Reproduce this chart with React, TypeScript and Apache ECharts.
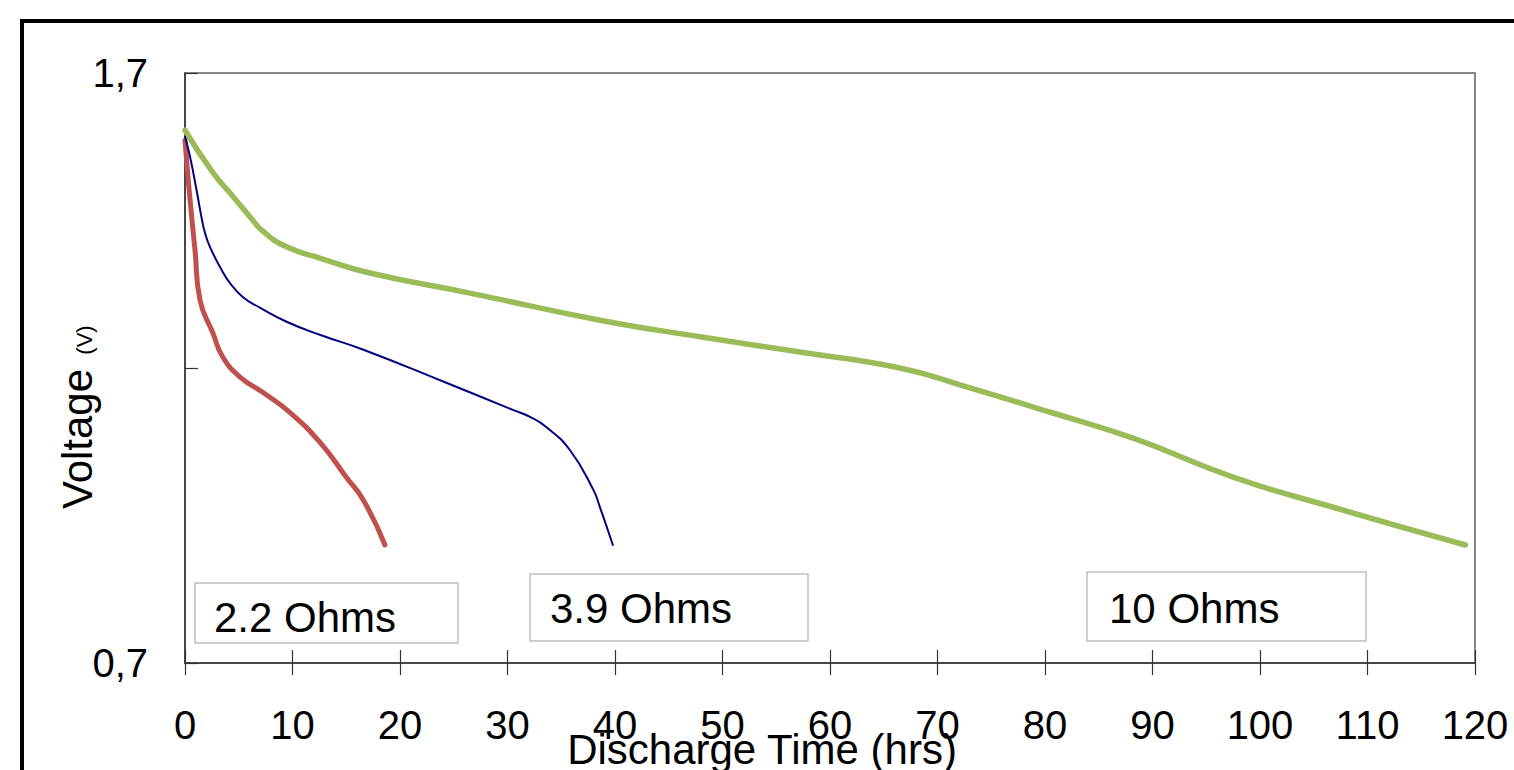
import React, { useEffect, useRef } from "react";
import * as echarts from "echarts";

// ---- data ----
const xTicks = { min: 0, max: 120, step: 10 };
const yTicks = { min: 0.7, max: 1.7, step: 0.5 };

const ohm22Time = [0, 0.2, 0.47, 0.93, 1.4, 2.6, 3.5, 5.1, 7.3, 9.8, 12.6, 15, 16.6, 18.6];
const ohm22Volt = [1.586, 1.541, 1.485, 1.4, 1.315, 1.259, 1.219, 1.185, 1.158, 1.124, 1.073, 1.015, 0.976, 0.9];

const ohm39Time = [0, 0.47, 1.12, 1.58, 1.86, 2.33, 3.26, 4.19, 5.4, 7, 9.5, 12.6, 16.6, 24.3, 30.5, 32.1, 33.6, 35.8, 38, 38.6, 39.8];
const ohm39Volt = [1.592, 1.558, 1.497, 1.451, 1.429, 1.405, 1.371, 1.344, 1.32, 1.302, 1.278, 1.256, 1.231, 1.175, 1.129, 1.117, 1.1, 1.061, 0.993, 0.964, 0.9];

const ohm10Time = [0, 2.6, 4.5, 6.05, 7.3, 9.5, 12.6, 17.2, 26.5, 38.6, 47.9, 57.2, 66.5, 72.7, 80.5, 88.2, 97.5, 106.8, 119.1];
const ohm10Volt = [1.603, 1.531, 1.49, 1.456, 1.431, 1.405, 1.386, 1.361, 1.327, 1.281, 1.253, 1.227, 1.2, 1.168, 1.125, 1.081, 1.015, 0.964, 0.9];

const seriesNames = ["2.2 Ohms", "3.9 Ohms", "10 Ohms"];
const xTitle = "Discharge Time (hrs)";
const yTitle = "Voltage";
const yUnit = "(V)";

const FONT = "'Liberation Sans', Arial, Helvetica, sans-serif";

const pairs = (t: number[], v: number[]) => t.map((x, i) => [x, v[i]]);

export default function App() {
  const ref = useRef<HTMLDivElement>(null);

  useEffect(() => {
    if (!ref.current) return;
    const chart = echarts.init(ref.current, undefined, { renderer: "svg" });

    const boxText = (x: number, y: number, w: number, h: number, tx: number, ty: number, text: string) => [
      {
        type: "rect",
        shape: { x, y, width: w, height: h },
        style: { fill: "#fff", stroke: "#BFBFBF", lineWidth: 1.5 },
        z: 10,
      },
      {
        type: "text",
        x: tx,
        y: ty,
        style: { text, fill: "#000", font: `42px ${FONT}`, textAlign: "left", textVerticalAlign: "middle" },
        z: 11,
      },
    ];

    const lineSeries = (name: string, t: number[], v: number[], color: string, width: number, z: number) => ({
      name,
      type: "line",
      data: pairs(t, v),
      showSymbol: false,
      smooth: 0.5,
      lineStyle: { color, width, cap: "round", join: "round" },
      itemStyle: { color },
      z,
    });

    chart.setOption({
      animation: false,
      backgroundColor: "#fff",
      grid: {
        left: 185,
        top: 73,
        right: 39,
        bottom: 107,
        show: true,
        borderColor: "#888",
        borderWidth: 2,
        backgroundColor: "transparent",
      },
      xAxis: [
        {
          type: "value",
          min: xTicks.min,
          max: xTicks.max,
          interval: xTicks.step,
          position: "bottom",
          axisLine: { show: true, lineStyle: { color: "#333", width: 1.5 } },
          axisTick: { show: true, inside: false, length: 12, lineStyle: { color: "#333", width: 1.2 } },
          axisLabel: { fontSize: 40, color: "#000", fontFamily: FONT, margin: 42 },
          splitLine: { show: false },
        },
        {
          type: "value",
          min: xTicks.min,
          max: xTicks.max,
          interval: xTicks.step,
          position: "bottom",
          axisLine: { show: false },
          axisTick: { show: true, inside: true, length: 13, lineStyle: { color: "#333", width: 1.2 } },
          axisLabel: { show: false },
          splitLine: { show: false },
        },
      ],
      yAxis: {
        type: "value",
        min: yTicks.min,
        max: yTicks.max,
        interval: yTicks.step,
        axisLine: { show: true, lineStyle: { color: "#333", width: 1.5 } },
        axisTick: { show: true, inside: true, length: 13, lineStyle: { color: "#333", width: 1.2 } },
        axisLabel: {
          fontSize: 40,
          color: "#000",
          fontFamily: FONT,
          margin: 37,
          formatter: (v: number) =>
            Math.abs(v - yTicks.min) < 1e-6 || Math.abs(v - yTicks.max) < 1e-6 ? v.toFixed(1).replace(".", ",") : "",
        },
        splitLine: { show: false },
      },
      series: [
        lineSeries(seriesNames[0], ohm22Time, ohm22Volt, "#C0504D", 5, 3),
        lineSeries(seriesNames[1], ohm39Time, ohm39Volt, "#000080", 2, 4),
        lineSeries(seriesNames[2], ohm10Time, ohm10Volt, "#9BBB59", 5.5, 2),
      ],
      graphic: [
        {
          type: "rect",
          shape: { x: 22, y: 21, width: 1600, height: 900 },
          style: { fill: "none", stroke: "#000", lineWidth: 4 },
          z: 20,
        },
        ...boxText(195, 583, 263, 60, 214, 617, seriesNames[0]),
        ...boxText(530, 574, 278, 67, 550, 608, seriesNames[1]),
        ...boxText(1087, 572, 279, 69, 1109, 608, seriesNames[2]),
        {
          type: "text",
          x: 762,
          y: 749,
          style: { text: xTitle, fill: "#000", font: `42px ${FONT}`, textAlign: "center", textVerticalAlign: "middle" },
          z: 11,
        },
        {
          type: "text",
          x: 77,
          y: 439,
          rotation: Math.PI / 2,
          style: { text: yTitle, fill: "#000", font: `42px ${FONT}`, textAlign: "center", textVerticalAlign: "middle" },
          z: 11,
        },
        {
          type: "text",
          x: 84,
          y: 340,
          rotation: Math.PI / 2,
          style: { text: yUnit, fill: "#000", font: `22px ${FONT}`, textAlign: "center", textVerticalAlign: "middle" },
          z: 11,
        },
      ],
    });

    return () => chart.dispose();
  }, []);

  return (
    <div
      ref={ref}
      style={{ position: "fixed", left: 0, top: 0, width: 1514, height: 770, background: "#fff" }}
    />
  );
}
